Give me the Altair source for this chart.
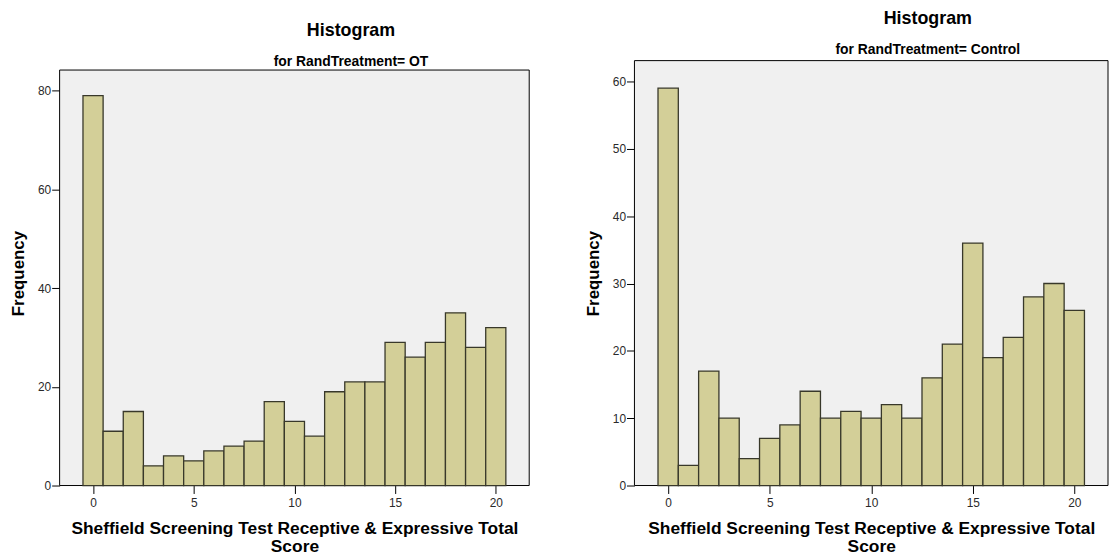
import altair as alt
import pandas as pd

# ---- data ----
scores = [0, 1, 2, 3, 4, 5, 6, 7, 8, 9, 10, 11, 12, 13, 14, 15, 16, 17, 18, 19, 20]
ot_counts = [79, 11, 15, 4, 6, 5, 7, 8, 9, 17, 13, 10, 19, 21, 21, 29, 26, 29, 35, 28, 32]
control_counts = [59, 3, 17, 10, 4, 7, 9, 14, 10, 11, 10, 12, 10, 16, 21, 36, 19, 22, 28, 30, 26]
x_ticks = [0, 5, 10, 15, 20]
ot_y_ticks = [0, 20, 40, 60, 80]
control_y_ticks = [0, 10, 20, 30, 40, 50, 60]
x_title = ["Sheffield Screening Test Receptive & Expressive Total", "Score"]
y_title = "Frequency"
main_title = "Histogram"
ot_subtitle = "for RandTreatment= OT"
control_subtitle = "for RandTreatment= Control"

FONT = "Liberation Sans"
FILL = "#D3CF98"
EDGE = "#38382A"
BG = "#F0F0F0"
H = 428


def panel(counts, ymax, yticks, subtitle, width, frame_top, title_dy):
    df = pd.DataFrame({"score": scores, "count": counts})
    frame = alt.Chart(pd.DataFrame({"k": [0]})).mark_rect(
        fill=BG, stroke="black", strokeWidth=1
    ).encode(
        x=alt.value(0), x2=alt.value(width), y=alt.value(frame_top), y2=alt.value(H)
    )
    bars = alt.Chart(df).transform_calculate(
        lo="datum.score - 0.5", hi="datum.score + 0.5"
    ).mark_rect(fill=FILL, stroke=EDGE, strokeWidth=1.3).encode(
        x=alt.X(
            "lo:Q",
            scale=alt.Scale(domain=[-1.66, 21.66], nice=False, zero=False),
            axis=alt.Axis(
                values=x_ticks, format="d", title=x_title, grid=False, domain=False,
                tickSize=8, tickColor="black", labelPadding=4,
                labelFont=FONT, labelFontSize=12, labelColor="#2a2a2a",
                titleFont=FONT, titleFontSize=17.5, titleFontWeight="bold",
                titleColor="black", titlePadding=11, titleLineHeight=18,
            ),
        ),
        x2="hi:Q",
        y=alt.Y(
            "count:Q",
            scale=alt.Scale(domain=[0, ymax], nice=False),
            axis=alt.Axis(
                values=yticks, format="d", title=y_title, grid=False, domain=False,
                tickSize=8, tickColor="black", labelPadding=1,
                labelFont=FONT, labelFontSize=12, labelColor="#2a2a2a",
                titleFont=FONT, titleFontSize=17, titleFontWeight="bold",
                titleColor="black", titlePadding=10,
            ),
        ),
        y2=alt.datum(0),
    )
    return alt.layer(frame, bars).properties(
        width=width,
        height=H,
        title=alt.TitleParams(
            text=main_title, subtitle=subtitle,
            font=FONT, fontSize=18, fontWeight="bold", color="black",
            subtitleFont=FONT, subtitleFontSize=14, subtitleFontWeight="bold",
            subtitleColor="black", subtitlePadding=15,
            anchor="middle", frame="group", dx=57, dy=title_dy, offset=3,
        ),
    )


left = panel(ot_counts, 86.1, ot_y_ticks, ot_subtitle, 473, 9.5, 11)
right = panel(control_counts, 63.1, control_y_ticks, control_subtitle, 477, 0, 0)

chart = alt.hconcat(left, right, spacing=54).properties(
    padding={"left": 1, "top": 0, "right": 0, "bottom": 0}
).configure_view(strokeOpacity=0)

chart.save("out.html", embed_options={"renderer": "svg", "actions": False})
